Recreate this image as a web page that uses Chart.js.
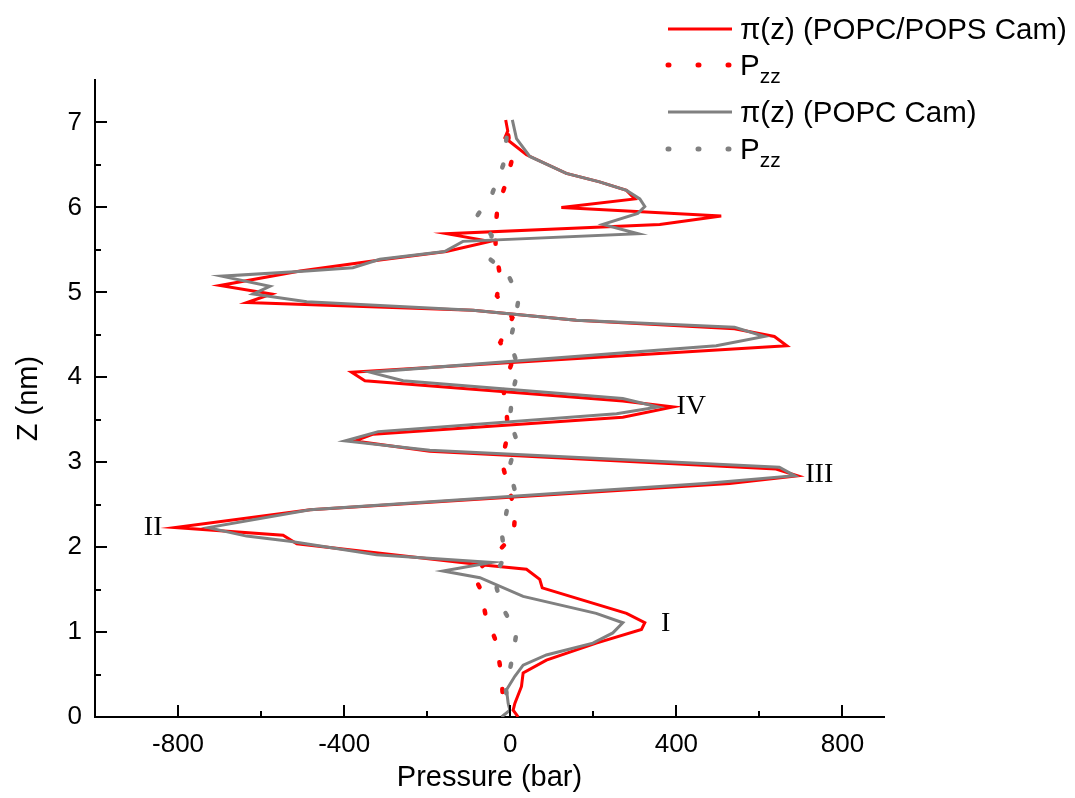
<!DOCTYPE html>
<html>
<head>
<meta charset="utf-8">
<script src="https://cdn.jsdelivr.net/npm/chart.js@4.4.1/dist/chart.umd.min.js"></script>
<style>
  html, body { margin: 0; padding: 0; background: #fff; }
  #wrap { position: relative; width: 1075px; height: 798px; }
  .lg { position: absolute; left: 665px; height: 40px; display: flex; align-items: center;
        font-family: "Liberation Sans", Arial, sans-serif; font-size: 29.5px; color: #000; white-space: nowrap; }
  .lg svg { margin-right: 7px; }
  .lg .sub { font-size: 21px; position: relative; top: 11px; }
</style>
</head>
<body>
<div id="wrap">
  <canvas id="myChart" width="1075" height="798"></canvas>
  <div class="lg" style="top:9px"><svg width="68" height="10"><line x1="3" y1="5" x2="67" y2="5" stroke="#ff0000" stroke-width="3"/></svg>&pi;(z) (POPC/POPS Cam)</div>
  <div class="lg" style="top:45px"><svg width="68" height="10"><line x1="3" y1="5" x2="67" y2="5" stroke="#ff0000" stroke-width="5" stroke-linecap="round" stroke-dasharray="1 29"/></svg>P<span class="sub">zz</span></div>
  <div class="lg" style="top:92px"><svg width="68" height="10"><line x1="3" y1="5" x2="67" y2="5" stroke="#808080" stroke-width="3"/></svg>&pi;(z) (POPC Cam)</div>
  <div class="lg" style="top:129px"><svg width="68" height="10"><line x1="3" y1="5" x2="67" y2="5" stroke="#808080" stroke-width="5" stroke-linecap="round" stroke-dasharray="1 29"/></svg>P<span class="sub">zz</span></div>
</div>
<script>
// pi(z), POPC/POPS with Cam
const zRed = [7.03, 6.90, 6.82, 6.62, 6.40, 6.30, 6.20, 6.10, 6.00, 5.90, 5.80, 5.69, 5.60, 5.48, 5.38, 5.25,
  5.08, 4.98, 4.88, 4.79, 4.67, 4.57, 4.48, 4.37, 4.06, 3.96, 3.72, 3.65, 3.53, 3.33, 3.25, 3.13, 2.92,
  2.84, 2.75, 2.44, 2.23, 2.14, 2.04, 1.79, 1.74, 1.62, 1.52, 1.22, 1.11, 1.03, 0.87, 0.67, 0.52, 0.36,
  0.16, 0.08, 0.00];
const pRed = [-11, -6, -13, 39, 135, 215, 280, 300, 123, 508, 360, -153, -49, -154, -314, -506,
  -699, -575, -634, -90, 159, 540, 636, 666, -382, -350, 271, 392, 271, -330, -374, -194, 640,
  692, 528, -482, -807, -547, -514, -65, 39, 71, 77, 280, 324, 316, 207, 87, 31, 27,
  11, 7, 19];

// pi(z), POPC with Cam
const zGray = [7.03, 6.81, 6.60, 6.40, 6.30, 6.20, 6.10, 6.01, 5.93, 5.80, 5.69, 5.60, 5.48, 5.39, 5.29, 5.25,
  5.19, 5.07, 4.98, 4.89, 4.79, 4.67, 4.59, 4.48, 4.37, 4.06, 3.96, 3.75, 3.65, 3.57, 3.36, 3.25, 3.14,
  2.94, 2.84, 2.75, 2.44, 2.23, 2.13, 2.07, 1.91, 1.82, 1.72, 1.64, 1.42, 1.22, 1.11, 0.99, 0.87, 0.73,
  0.61, 0.48, 0.32, 0.16, 0.08, 0.00];
const pGray = [5, 15, 47, 135, 215, 280, 312, 324, 307, 223, 308, -114, -158, -314, -379, -490,
  -695, -579, -619, -490, -90, 159, 540, 612, 496, -338, -258, 271, 356, 256, -318, -398, -194,
  648, 685, 468, -482, -727, -635, -531, -322, -45, -162, -73, 31, 207, 271, 247, 199, 87,
  31, 11, -9, -5, -1, -21];

// Pzz, POPC/POPS with Cam
const zRedPzz = [6.85, 6.54, 6.25, 5.99, 5.73, 5.48, 5.16, 4.96, 4.70, 4.41, 4.16, 3.88, 3.59, 3.34,
  3.01, 2.72, 2.42, 2.14, 1.91, 1.68, 1.52, 1.19, 0.90, 0.61, 0.32, 0.03];
const pRedPzz = [-5, 3, -13, -31, -36, -35, -23, -32, 5, -24, 3, -17, -9, -5,
  -21, -5, 12, 8, -37, -90, -73, -59, -35, -25, -19, -15];

// Pzz, POPC with Cam
const zGrayPzz = [6.82, 6.50, 6.17, 5.89, 5.67, 5.40, 5.22, 4.95, 4.66, 4.42, 4.11, 3.81, 3.50, 3.25,
  2.93, 2.65, 2.44, 2.14, 1.89, 1.65, 1.31, 0.99, 0.67, 0.34, 0.05];
const pGrayPzz = [-9, -17, -43, -81, -45, -51, -7, 21, 11, -1, 20, 5, -1, 16,
  -3, 12, -8, -20, -12, -40, -21, 15, 4, -11, -3];

// axis ticks
const xTicks = [-800, -400, 0, 400, 800];
const yTicks = [0, 1, 2, 3, 4, 5, 6, 7];

// peak labels
const peakText = ['I', 'II', 'III', 'IV'];
const peakP = [374, -860, 744, 436];
const peakZ = [1.10, 2.23, 2.85, 3.65];

const sans = "'Liberation Sans', Arial, sans-serif";

function pts(xs, ys) {
    return xs.map((x, i) => ({ x: x, y: ys[i] }));
}

function mids(arr) {
    const out = [];
    for (let i = 0; i < arr.length - 1; i++) out.push((arr[i] + arr[i + 1]) / 2);
    return out;
}

// inward tick marks + roman numeral labels
const marksPlugin = {
    id: 'marks',
    afterDraw(chart) {
        const { ctx, scales: { x, y } } = chart;
        ctx.save();
        ctx.strokeStyle = '#000';
        ctx.lineWidth = 2;
        const xb = y.getPixelForValue(0);
        const yl = x.getPixelForValue(-1000);
        xTicks.forEach(v => {
            const px = Math.round(x.getPixelForValue(v));
            ctx.beginPath(); ctx.moveTo(px, xb); ctx.lineTo(px, xb - 12); ctx.stroke();
        });
        mids(xTicks).forEach(v => {
            const px = Math.round(x.getPixelForValue(v));
            ctx.beginPath(); ctx.moveTo(px, xb); ctx.lineTo(px, xb - 6); ctx.stroke();
        });
        yTicks.forEach(v => {
            const py = Math.round(y.getPixelForValue(v));
            ctx.beginPath(); ctx.moveTo(yl, py); ctx.lineTo(yl + 12, py); ctx.stroke();
        });
        mids(yTicks).forEach(v => {
            const py = Math.round(y.getPixelForValue(v));
            ctx.beginPath(); ctx.moveTo(yl, py); ctx.lineTo(yl + 6, py); ctx.stroke();
        });
        ctx.fillStyle = '#000';
        ctx.font = "28px 'Liberation Serif', 'Times New Roman', serif";
        ctx.textAlign = 'center';
        ctx.textBaseline = 'middle';
        peakText.forEach((t, i) => {
            ctx.fillText(t, x.getPixelForValue(peakP[i]), y.getPixelForValue(peakZ[i]));
        });
        ctx.restore();
    }
};

const ctxEl = document.getElementById('myChart').getContext('2d');
new Chart(ctxEl, {
    type: 'scatter',
    data: {
        datasets: [
            {
                label: 'Pzz (POPC Cam)',
                data: pts(pGrayPzz, zGrayPzz),
                showLine: true, borderColor: '#808080', borderWidth: 4.5,
                borderDash: [3, 24], borderCapStyle: 'round',
                pointRadius: 0, order: 0
            },
            {
                label: 'pi(z) (POPC Cam)',
                data: pts(pGray, zGray),
                showLine: true, borderColor: '#808080', borderWidth: 3,
                borderJoinStyle: 'miter', pointRadius: 0, order: 1
            },
            {
                label: 'Pzz (POPC/POPS Cam)',
                data: pts(pRedPzz, zRedPzz),
                showLine: true, borderColor: '#ff0000', borderWidth: 4.5,
                borderDash: [3, 24], borderCapStyle: 'round',
                pointRadius: 0, order: 2
            },
            {
                label: 'pi(z) (POPC/POPS Cam)',
                data: pts(pRed, zRed),
                showLine: true, borderColor: '#ff0000', borderWidth: 3,
                borderJoinStyle: 'miter', pointRadius: 0, order: 3
            }
        ]
    },
    options: {
        responsive: false,
        animation: false,
        layout: { padding: { top: 80, right: 191, bottom: 0, left: 0 } },
        plugins: { legend: { display: false }, tooltip: { enabled: false } },
        scales: {
            x: {
                type: 'linear', min: -1000, max: 900,
                afterBuildTicks: s => { s.ticks = xTicks.map(v => ({ value: v })); },
                afterFit: s => { s.height = 81; },
                grid: { display: false, drawTicks: false },
                border: { display: true, color: '#000', width: 2 },
                ticks: { color: '#000', font: { family: sans, size: 26 }, padding: 12, maxRotation: 0, autoSkip: false },
                title: { display: true, text: 'Pressure (bar)', color: '#000', font: { family: sans, size: 29 }, padding: { top: 0, bottom: 3 } }
            },
            y: {
                type: 'linear', min: 0, max: 7.5,
                afterBuildTicks: s => { s.ticks = yTicks.map(v => ({ value: v })); },
                afterFit: s => { s.width = 95; },
                grid: { display: false, drawTicks: false },
                border: { display: true, color: '#000', width: 2 },
                ticks: { color: '#000', font: { family: sans, size: 26 }, padding: 13, autoSkip: false },
                title: { display: true, text: 'Z (nm)', color: '#000', font: { family: sans, size: 29 }, padding: { top: 12, bottom: 0 } }
            }
        }
    },
    plugins: [marksPlugin]
});
</script>
</body>
</html>
